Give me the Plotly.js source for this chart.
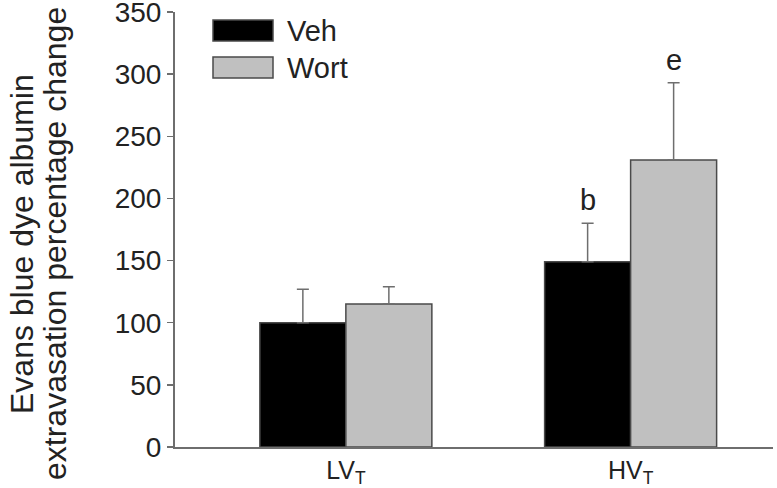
<!DOCTYPE html>
<html>
<head>
<meta charset="utf-8">
<script src="https://cdn.plot.ly/plotly-3.0.1.min.js"></script>
<style>
  body { margin: 0; background: #fff; }
  #chart { width: 777px; height: 488px; }
</style>
</head>
<body>
<div id="chart"></div>
<script>
// Werte
var gruppen = ['LV<sub>T</sub>', 'HV<sub>T</sub>'];
var vehWerte = [100, 149];
var vehFehler = [27, 31];
var wortWerte = [115, 231];
var wortFehler = [14, 62];
var markierungen = ['', 'b'];
var markierungenWort = ['', 'e'];
var yTicks = [0, 50, 100, 150, 200, 250, 300, 350];
var titelZeilen = ['Evans blue dye albumin', 'extravasation percentage change'];

var schrift = 'Liberation Sans, Arial, sans-serif';

var veh = {
    x: gruppen,
    y: vehWerte,
    type: 'bar',
    name: 'Veh',
    marker: {color: '#000000', line: {color: '#4a4a4a', width: 1.5}},
    error_y: {type: 'data', array: vehFehler, symmetric: false, arrayminus: [0, 0],
              color: '#6e6e6e', thickness: 1.5, width: 6}
};

var wort = {
    x: gruppen,
    y: wortWerte,
    type: 'bar',
    name: 'Wort',
    marker: {color: '#c0c0c0', line: {color: '#4a4a4a', width: 1.5}},
    error_y: {type: 'data', array: wortFehler, symmetric: false, arrayminus: [0, 0],
              color: '#6e6e6e', thickness: 1.5, width: 6}
};

// Buchstaben über den Fehlerbalken
var annotationen = [];
for (var i = 0; i < gruppen.length; i++) {
    if (markierungen[i]) {
        annotationen.push({x: i - 0.151, y: vehWerte[i] + vehFehler[i], xref: 'x', yref: 'y',
            text: markierungen[i], showarrow: false, yanchor: 'bottom', yshift: 5,
            font: {family: schrift, size: 29, color: '#222'}});
    }
    if (markierungenWort[i]) {
        annotationen.push({x: i + 0.151, y: wortWerte[i] + wortFehler[i], xref: 'x', yref: 'y',
            text: markierungenWort[i], showarrow: false, yanchor: 'bottom', yshift: 5,
            font: {family: schrift, size: 29, color: '#222'}});
    }
}

// y-Titel als zwei gedrehte Zeilen (engerer Zeilenabstand als Plotly)
var titelX = [22, 55];
titelZeilen.forEach(function (t, k) {
    annotationen.push({xref: 'paper', yref: 'paper', x: (titelX[k] - 175) / 598,
        y: 1 - (244 - 12) / 435, xanchor: 'center', yanchor: 'middle', textangle: -90,
        text: t, showarrow: false, font: {family: schrift, size: 32, color: '#222'}});
});

// Legende von Hand, mit breiten Kästchen wie im Original
var legende = [{name: 'Veh', farbe: '#000000'}, {name: 'Wort', farbe: '#c0c0c0'}];
var formen = [];
legende.forEach(function (l, k) {
    var oben = 20 + k * 37;
    formen.push({type: 'rect', xref: 'paper', yref: 'paper',
        x0: (213 - 175) / 598, x1: (273 - 175) / 598,
        y0: 1 - (oben - 12 + 21) / 435, y1: 1 - (oben - 12) / 435,
        fillcolor: l.farbe, line: {color: '#4a4a4a', width: 1.5}});
    annotationen.push({xref: 'paper', yref: 'paper', x: (285 - 175) / 598,
        y: 1 - (oben - 12 + 10.5) / 435, xanchor: 'left', yanchor: 'middle',
        text: l.name, showarrow: false, font: {family: schrift, size: 29, color: '#222'}});
});

var layout = {
    width: 777,
    height: 488,
    margin: {l: 175, r: 4, t: 12, b: 41},
    paper_bgcolor: '#ffffff',
    plot_bgcolor: '#ffffff',
    barmode: 'group',
    bargap: 0.396,
    bargroupgap: 0,
    showlegend: false,
    font: {family: schrift, size: 29, color: '#222'},
    xaxis: {
        type: 'category',
        range: [-0.6, 1.5],
        showgrid: false,
        zeroline: false,
        showline: true,
        linecolor: '#6e6e6e',
        linewidth: 2,
        ticks: '',
        ticklabelstandoff: 0,
        tickfont: {family: schrift, size: 25, color: '#222'}
    },
    yaxis: {
        range: [0, 350.01],
        tickmode: 'array',
        tickvals: yTicks,
        ticklabeloverflow: 'allow',
        showgrid: false,
        zeroline: false,
        showline: true,
        linecolor: '#6e6e6e',
        linewidth: 2,
        ticks: 'outside',
        ticklen: 6,
        tickwidth: 1.5,
        tickcolor: '#6e6e6e',
        tickfont: {family: schrift, size: 28, color: '#222'}
    },
    shapes: formen,
    annotations: annotationen
};

Plotly.newPlot('chart', [veh, wort], layout, {displayModeBar: false, staticPlot: true});
</script>
</body>
</html>
